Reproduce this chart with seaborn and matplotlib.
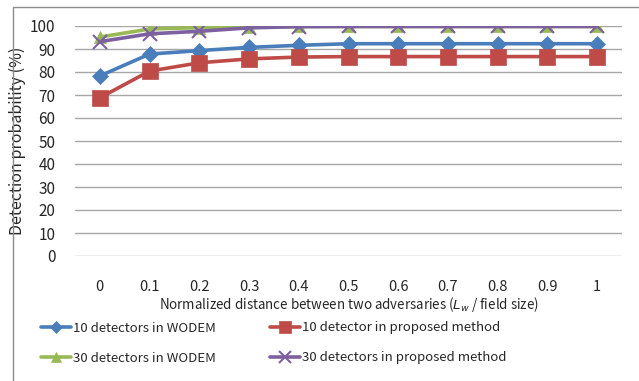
import matplotlib
matplotlib.use("Agg")
import matplotlib.pyplot as plt
from matplotlib.patches import Rectangle
import seaborn as sns
import pandas as pd

distance = ["0", "0.1", "0.2", "0.3", "0.4", "0.5", "0.6", "0.7", "0.8", "0.9", "1"]
wodem_10 = [78.3, 87.8, 89.3, 90.7, 91.6, 92.3, 92.3, 92.3, 92.3, 92.3, 92.3]
proposed_10 = [68.8, 80.4, 84.0, 85.7, 86.5, 86.7, 86.7, 86.7, 86.7, 86.7, 86.7]
wodem_30 = [95.2, 98.7, 99.3, 99.6, 99.8, 99.8, 99.8, 99.8, 99.8, 99.8, 99.8]
proposed_30 = [93.2, 96.6, 97.7, 99.2, 99.7, 99.8, 99.8, 99.8, 99.8, 99.8, 99.8]

series_names = [
    "10 detectors in WODEM",
    "10 detector in proposed method",
    "30 detectors in WODEM",
    "30 detectors in proposed method",
]
series_values = [wodem_10, proposed_10, wodem_30, proposed_30]
colors = ["#4a7ebb", "#be4b48", "#98b954", "#7d60a0"]
markers = ["D", "s", "^", "x"]
marker_sizes = [8, 11, 9, 10]

sns.set_style("white")
plt.rcParams["font.family"] = ["Noto Sans CJK KR", "DejaVu Sans"]

fig = plt.figure(figsize=(6.39, 3.81), dpi=100)
W, H = 639, 381
ax = fig.add_axes([75 / W, 1 - 256 / H, (622 - 75) / W, (256 - 26) / H])

# outer chart border
fig.patches.append(Rectangle((13 / W, -0.1), 1.2, 1 - 7 / H + 0.1,
                             transform=fig.transFigure, fill=False,
                             edgecolor="#8c8c8c", linewidth=1.0))

rows = []
for name, vals in zip(series_names, series_values):
    for i, v in enumerate(vals):
        rows.append({"x": i, "value": v, "series": name})
df = pd.DataFrame(rows)

for name, c, m, ms in zip(series_names, colors, markers, marker_sizes):
    sub = df[df["series"] == name]
    sns.lineplot(data=sub, x="x", y="value", ax=ax, color=c, linewidth=2.6,
                 marker=m, markersize=ms, markeredgecolor=c,
                 markeredgewidth=1.5 if m == "x" else 0.5, label=name)

ax.set_xlim(-0.5, len(distance) - 0.5)
ax.set_ylim(0, 100)
ax.set_yticks(range(0, 101, 10))
ax.set_xticks(range(len(distance)))
ax.set_xticklabels(distance)
ax.grid(axis="y", color="#a6a6a6", linewidth=1.0)
ax.grid(axis="x", visible=False)
ax.set_axisbelow(True)
for s in ax.spines.values():
    s.set_visible(False)
ax.tick_params(axis="y", length=0, labelsize=11, colors="#262626", pad=14)
ax.tick_params(axis="x", length=0, labelsize=10.5, colors="#262626", pad=17)

ax.set_xlabel("Normalized distance between two adversaries ($L_w$ / field size)",
              fontsize=9.6, color="#262626", labelpad=1)
ax.set_ylabel("Detection probability (%)", fontsize=11.5, color="#262626", labelpad=3)

ax.legend_.remove()
handles, labels = ax.get_legend_handles_labels()
# each legend entry placed on a 2x2 grid below the axis title
entry_pos = [(41, 328), (270, 328), (41, 358), (270, 358)]
for h, l, (px, py) in zip(handles, labels, entry_pos):
    fig.legend([h], [l], loc="center left", frameon=False,
               bbox_to_anchor=(px / W, 1 - py / H), fontsize=9.5,
               borderpad=0, borderaxespad=0, markerscale=0.8,
               handlelength=2.3, handletextpad=0.15, labelcolor="#262626")

fig.savefig("out.png", dpi=100)
